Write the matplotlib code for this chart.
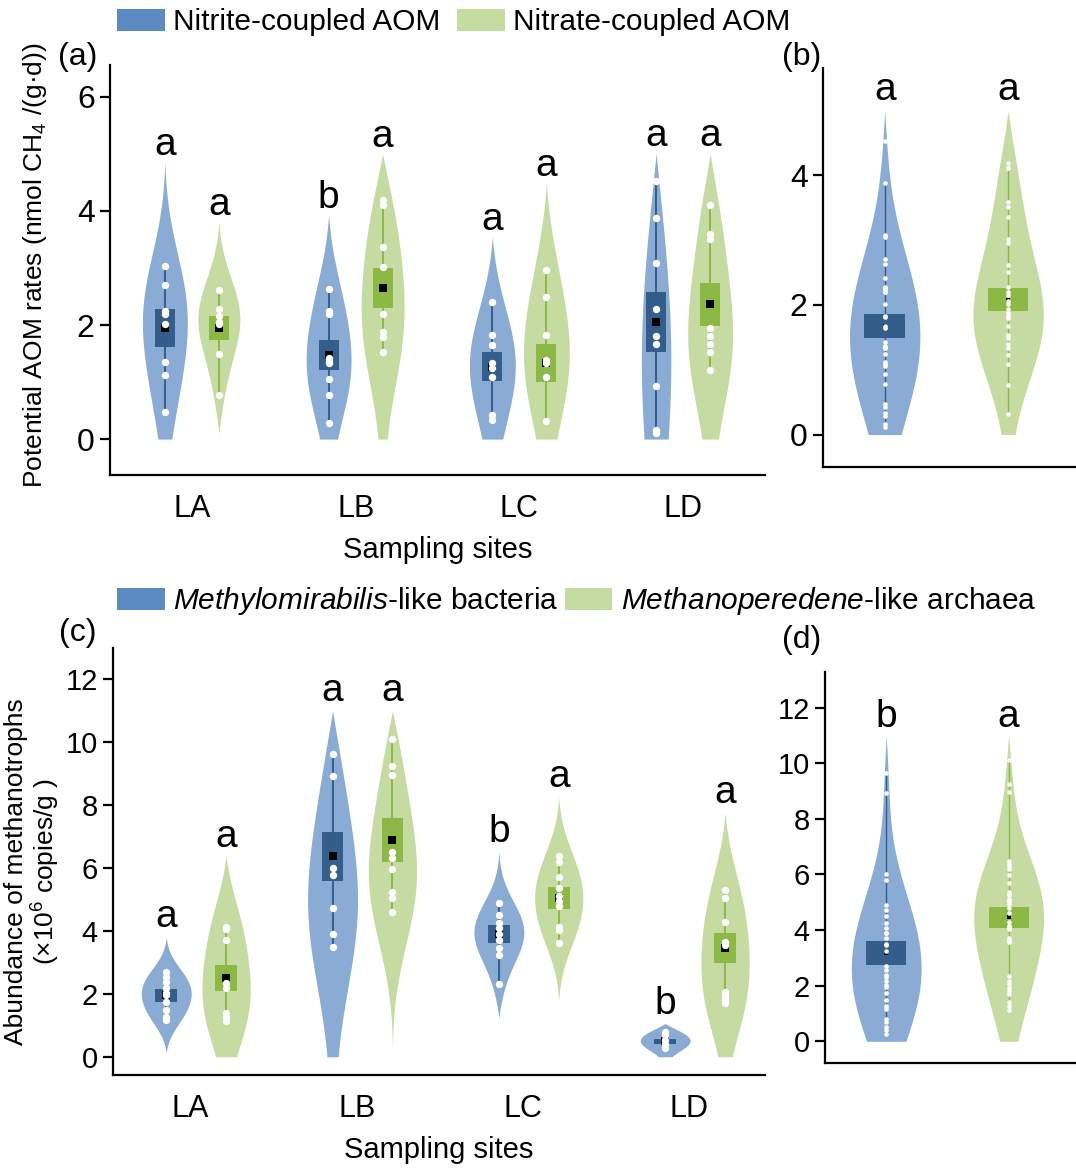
import numpy as np
import matplotlib
matplotlib.use("Agg")
import matplotlib.pyplot as plt
from matplotlib.patches import Patch

plt.rcParams['font.family'] = ['Liberation Sans', 'DejaVu Sans']
plt.rcParams['mathtext.fontset'] = 'custom'
plt.rcParams['mathtext.rm'] = 'Liberation Sans'
plt.rcParams['mathtext.it'] = 'Liberation Sans:italic'

sites = ['LA', 'LB', 'LC', 'LD']

# ---------------- Panel (a): potential AOM rates ----------------
nitrite_pts = [
    [3.04, 2.70, 2.24, 2.20, 2.02, 1.35, 1.12, 0.47],
    [2.63, 2.25, 2.20, 1.43, 1.37, 1.33, 1.06, 0.78, 0.29],
    [2.41, 1.82, 1.65, 1.33, 1.24, 1.09, 0.42, 0.33],
    [4.53, 3.88, 3.08, 2.28, 1.81, 1.67, 0.93, 0.16, 0.11],
]
nitrite_mean = [1.95, 1.47, 1.27, 2.06]
nitrite_se = [0.33, 0.26, 0.255, 0.525]
nitrite_range = [(0.0, 4.86), (0.0, 3.93), (0.0, 3.55), (0.0, 5.01)]
nitrite_letters = ['a', 'b', 'a', 'a']

nitrate_pts = [
    [2.61, 2.28, 2.15, 2.06, 2.02, 1.49, 0.77],
    [4.19, 4.11, 3.36, 3.01, 2.20, 1.88, 1.79, 1.52],
    [2.96, 2.50, 1.82, 1.39, 1.33, 1.08, 0.32],
    [4.11, 3.59, 3.50, 1.94, 1.81, 1.67, 1.53, 1.22],
]
nitrate_mean = [1.94, 2.65, 1.33, 2.36]
nitrate_se = [0.21, 0.355, 0.335, 0.375]
nitrate_range = [(0.1, 3.81), (0.0, 5.0), (0.0, 4.49), (0.0, 5.01)]
nitrate_letters = ['a', 'a', 'a', 'a']

# ---------------- Panel (b): pooled rates ----------------
b_mean = [1.68, 2.08]
b_se = [0.185, 0.18]
b_range = [(0.0, 5.0), (0.0, 5.0)]
b_whisker = [(0.11, 3.88), (0.32, 4.19)]
b_letters = ['a', 'a']

# ---------------- Panel (c): abundance ----------------
bact_pts = [
    [2.71, 2.55, 2.39, 2.18, 2.02, 1.96, 1.75, 1.49, 1.27, 1.17],
    [9.64, 8.92, 6.00, 5.79, 4.73, 3.90, 3.50],
    [4.89, 4.51, 4.25, 4.09, 3.90, 3.72, 3.45, 3.24, 2.32],
    [0.80, 0.69, 0.53, 0.40, 0.27],
]
bact_mean = [1.96, 6.37, 3.91, 0.50]
bact_se = [0.205, 0.78, 0.29, 0.08]
bact_range = [(0.12, 3.82), (0.0, 11.0), (1.22, 6.53), (0.0, 1.06)]
bact_letters = ['a', 'a', 'b', 'b']

arch_pts = [
    [4.14, 4.06, 3.72, 2.36, 2.18, 1.40, 1.27, 1.14],
    [10.11, 9.26, 8.97, 6.50, 6.32, 5.97, 5.25, 5.04, 4.60],
    [6.39, 6.21, 5.71, 5.36, 5.10, 4.94, 4.80, 4.14, 4.03, 3.61],
    [5.29, 5.04, 4.30, 3.66, 3.56, 2.07, 1.93, 1.81, 1.70],
]
arch_mean = [2.50, 6.89, 5.04, 3.45]
arch_se = [0.415, 0.69, 0.355, 0.48]
arch_range = [(0.0, 6.37), (0.24, 11.0), (1.78, 8.28), (0.0, 7.75)]
arch_letters = ['a', 'a', 'a', 'a']

# ---------------- Panel (d): pooled abundance ----------------
d_mean = [3.18, 4.465]
d_se = [0.43, 0.375]
d_range = [(0.0, 11.0), (0.0, 11.0)]
d_whisker = [(0.27, 9.64), (1.14, 10.11)]
d_letters = ['b', 'a']

# ---------------- styles ----------------
BLUE_FILL = '#8AABD3'
BLUE_DARK = '#335E8C'
GREEN_FILL = '#C5DBA1'
GREEN_DARK = '#8CB946'
BLUE_LEG = '#5B8BC2'
GREEN_LEG = '#C5DCA0'
BW_FACTOR = 1.45

W, H = 1076, 1169
fig = plt.figure(figsize=(W / 100, H / 100), dpi=100)


def axes_px(left, top, right, bottom):
    return fig.add_axes([left / W, 1 - bottom / H, (right - left) / W, (bottom - top) / H])


def violin(ax, x, pts, vrange, mean, se, whisk, halfw, boxw, fill, dark,
           letter, ptsize, msize, lw, letter_off):
    pts = np.asarray(pts, float)
    lo, hi = vrange
    h = BW_FACTOR * 1.06 * pts.std(ddof=1) * len(pts) ** (-0.2)
    ys = np.linspace(lo, hi, 400)
    dens = np.exp(-0.5 * ((ys[:, None] - pts[None, :]) / h) ** 2).sum(1)
    base_lo = dens[0] if lo > 0 else 0.0
    base = base_lo + (dens[-1] - base_lo) * (ys - lo) / (hi - lo)
    dens = np.clip(dens - base, 0, None)
    w = dens / dens.max() * halfw
    ax.fill_betweenx(ys, x - w, x + w, color=fill, lw=0, zorder=1)
    ax.plot([x, x], whisk, color=dark, lw=lw, zorder=2, solid_capstyle='butt')
    ax.bar(x, 2 * se, bottom=mean - se, width=2 * boxw, color=dark, zorder=3, lw=0)
    ax.scatter([x], [mean], marker='s', s=msize, color='black', zorder=4, lw=0)
    ax.scatter(np.full(len(pts), x), pts, s=ptsize, color='white', zorder=5, lw=0)
    ax.annotate(letter, (x, hi), xytext=(0, letter_off), textcoords='offset points',
                ha='center', va='baseline', fontsize=28)


def style_axes(ax, ticksize):
    for s in ['top', 'right']:
        ax.spines[s].set_visible(False)
    for s in ['left', 'bottom']:
        ax.spines[s].set_linewidth(1.6)
    ax.tick_params(axis='y', length=7, width=1.6, labelsize=ticksize, pad=4)
    ax.tick_params(axis='x', length=0, labelsize=22, pad=14)


# ---------------- Panel (a) ----------------
axa = axes_px(110, 65, 765, 475)
off_a = 0.165
hw_a_blue = [0.137, 0.137, 0.14, 0.09]
hw_a_green = [0.128, 0.131, 0.14, 0.137]
for i in range(4):
    p = nitrite_pts[i]
    violin(axa, i - off_a, p, nitrite_range[i], nitrite_mean[i], nitrite_se[i],
           (min(p), max(p)), hw_a_blue[i], 0.061, BLUE_FILL, BLUE_DARK,
           nitrite_letters[i], 28, 34, 1.4, 5)
    p = nitrate_pts[i]
    violin(axa, i + off_a, p, nitrate_range[i], nitrate_mean[i], nitrate_se[i],
           (min(p), max(p)), hw_a_green[i], 0.061, GREEN_FILL, GREEN_DARK,
           nitrate_letters[i], 28, 34, 1.4, 5)
axa.set_xlim(-0.5, 3.5)
axa.set_ylim(-0.63, 6.56)
axa.set_yticks([0, 2, 4, 6])
axa.set_xticks(range(4))
axa.set_xticklabels(sites)
style_axes(axa, 23)
axa.set_xlabel('Sampling sites', fontsize=21, labelpad=8)

# ---------------- Panel (b) ----------------
axb = axes_px(823, 68, 1076, 467)
b_pts = [np.concatenate(nitrite_pts), np.concatenate(nitrate_pts)]
for j, (fill, dark) in enumerate([(BLUE_FILL, BLUE_DARK), (GREEN_FILL, GREEN_DARK)]):
    violin(axb, j, b_pts[j], b_range[j], b_mean[j], b_se[j], b_whisker[j],
           0.285, 0.164, fill, dark, b_letters[j], 11, 12, 1.0, 7)
axb.set_xlim(-0.5, 1.55)
axb.set_ylim(-0.5, 5.65)
axb.set_yticks([0, 2, 4])
axb.set_xticks([])
style_axes(axb, 23)

# ---------------- Panel (c) ----------------
axc = axes_px(113, 648, 765, 1075)
off_c = 0.18
for i in range(4):
    p = bact_pts[i]
    violin(axc, i - off_c, p, bact_range[i], bact_mean[i], bact_se[i],
           (min(p), max(p)), 0.15, 0.065, BLUE_FILL, BLUE_DARK,
           bact_letters[i], 28, 34, 1.4, 7)
    p = arch_pts[i]
    violin(axc, i + off_c, p, arch_range[i], arch_mean[i], arch_se[i],
           (min(p), max(p)), 0.145, 0.065, GREEN_FILL, GREEN_DARK,
           arch_letters[i], 28, 34, 1.4, 7)
axc.set_xlim(-0.5, 3.42)
axc.set_ylim(-0.58, 13.0)
axc.set_yticks([0, 2, 4, 6, 8, 10, 12])
axc.set_xticks([i - 0.035 for i in range(4)])
axc.set_xticklabels(sites)
style_axes(axc, 21)
axc.set_xlabel('Sampling sites', fontsize=21, labelpad=8)

# ---------------- Panel (d) ----------------
axd = axes_px(825, 672, 1076, 1063)
d_pts = [np.concatenate(bact_pts), np.concatenate(arch_pts)]
for j, (fill, dark) in enumerate([(BLUE_FILL, BLUE_DARK), (GREEN_FILL, GREEN_DARK)]):
    violin(axd, j, d_pts[j], d_range[j], d_mean[j], d_se[j], d_whisker[j],
           0.285, 0.164, fill, dark, d_letters[j], 11, 12, 1.0, 6)
axd.set_xlim(-0.5, 1.55)
axd.set_ylim(-0.78, 13.28)
axd.set_yticks([0, 2, 4, 6, 8, 10, 12])
axd.set_xticks([])
style_axes(axd, 21)

# ---------------- labels ----------------
fig.text(35 / W, 1 - 265 / H, 'Potential AOM rates (nmol CH$_4$ /(g·d))',
         rotation=90, ha='center', va='center', fontsize=19)
fig.text(33 / W, 1 - 872 / H, 'Abundance of methanotrophs\n(×10$^6$ copies/g )',
         rotation=90, ha='center', va='center', fontsize=19, multialignment='center',
         linespacing=1.05)
for txt, x, y in [('(a)', 78, 57), ('(b)', 802, 57), ('(c)', 78, 633), ('(d)', 802, 640)]:
    fig.text(x / W, 1 - y / H, txt, ha='center', va='center', fontsize=23)

leg_kw = dict(loc='center left', ncol=2, frameon=False, fontsize=21.5,
              handlelength=1.6, handleheight=0.75, handletextpad=0.28,
              borderpad=0, borderaxespad=0)
fig.legend([Patch(color=BLUE_LEG, lw=0), Patch(color=GREEN_LEG, lw=0)],
           ['Nitrite-coupled AOM', 'Nitrate-coupled AOM'],
           bbox_to_anchor=(117 / W, 1 - 22 / H), columnspacing=0.55, **leg_kw)
fig.legend([Patch(color=BLUE_LEG, lw=0), Patch(color=GREEN_LEG, lw=0)],
           ['$\\it{Methylomirabilis}$-like bacteria', '$\\it{Methanoperedene}$-like archaea'],
           bbox_to_anchor=(117 / W, 1 - 601 / H), columnspacing=0.2, **leg_kw)

fig.savefig('out.png', dpi=100)
